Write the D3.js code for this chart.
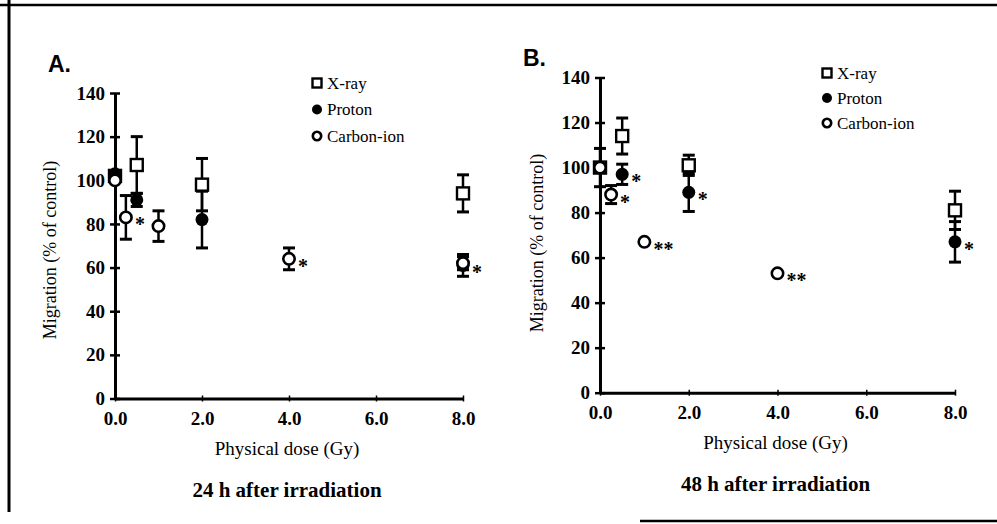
<!DOCTYPE html>
<html>
<head>
<meta charset="utf-8">
<script src="https://cdn.jsdelivr.net/npm/d3@7/dist/d3.min.js"></script>
<style>
body{margin:0;background:#fff;}
svg{display:block;}
</style>
</head>
<body>
<div id="chart-area"></div>
<script>
// ---- data ----
var seriesNames=["X-ray","Proton","Carbon-ion"];
var xTicks=[0,2,4,6,8];
var yTicks=[0,20,40,60,80,100,120,140];

// A: 24 h after irradiation
var xrayDoseA=[0,0.5,2,8],        xrayA=[102,107,98,94],      xrayErrA=[0,13,12,8.5],   xraySigA=["","","",""];
var protonDoseA=[0,0.5,2,8],      protonA=[103,91,82,61],     protonErrA=[0,3,13,5],    protonSigA=["","","","*"];
var carbonDoseA=[0,0.25,1,4,8],   carbonA=[100,83,79,64,62],  carbonErrA=[0,10,7,5,3],  carbonSigA=["","*","","*",""];

// B: 48 h after irradiation
var xrayDoseB=[0,0.5,2,8],        xrayB=[100,114,101,81],     xrayErrB=[0,8,4.5,8.5],   xraySigB=["","","",""];
var protonDoseB=[0,0.5,2,8],      protonB=[100,97,89,67],     protonErrB=[8.5,4.5,8.5,9], protonSigB=["","*","*","*"];
var carbonDoseB=[0,0.25,1,4],     carbonB=[100,88,67,53],     carbonErrB=[0,4,0,0],     carbonSigB=["","*","**","**"];

function pack(dose,val,err,sig){
    return dose.map(function(d,i){return {dose:d,value:val[i],err:err[i],sig:sig[i]};});
}

var panels=[
    {letter:"A.",title:"24 h after irradiation",
     x0:115,x1:463,yTop:93,yBot:398.5,
     letterX:48,letterY:72,legX:317,legY:83,legGap:26.5,
     yTitleX:50,yTitleY:250,
     series:[pack(xrayDoseA,xrayA,xrayErrA,xraySigA),pack(protonDoseA,protonA,protonErrA,protonSigA),pack(carbonDoseA,carbonA,carbonErrA,carbonSigA)]},
    {letter:"B.",title:"48 h after irradiation",
     x0:600,x1:955,yTop:77.5,yBot:392.7,
     letterX:523,letterY:66,legX:827,legY:73,legGap:25,
     yTitleX:537,yTitleY:243,
     series:[pack(xrayDoseB,xrayB,xrayErrB,xraySigB),pack(protonDoseB,protonB,protonErrB,protonSigB),pack(carbonDoseB,carbonB,carbonErrB,carbonSigB)]}
];

var width=997, height=524;
var serif="'Liberation Serif','Times New Roman',serif";

var svg=d3.select("#chart-area").append("svg")
    .attr("width",width)
    .attr("height",height);

svg.append("rect").attr("width",width).attr("height",height).attr("fill","#fff");

// scan frame
svg.append("line").attr("x1",0).attr("x2",width).attr("y1",5).attr("y2",5)
    .attr("stroke","#000").attr("stroke-width",2.5);
svg.append("line").attr("x1",9).attr("x2",9).attr("y1",0).attr("y2",512)
    .attr("stroke","#000").attr("stroke-width",3);
svg.append("line").attr("x1",640).attr("x2",width).attr("y1",521).attr("y2",521)
    .attr("stroke","#000").attr("stroke-width",2.5);

function marker(sel,k,size){
    if(k===0){
        sel.append("rect")
            .attr("x",-size/2).attr("y",-size/2)
            .attr("width",size).attr("height",size)
            .attr("fill","#fff").attr("stroke","#000").attr("stroke-width",2.4);
    }else if(k===1){
        sel.append("circle").attr("r",size/2+0.5).attr("fill","#000");
    }else{
        sel.append("circle").attr("r",size/2-0.3)
            .attr("fill","#fff").attr("stroke","#000").attr("stroke-width",2.6);
    }
}

panels.forEach(function(p){
    var x=d3.scaleLinear().domain([0,8]).range([p.x0,p.x1]);
    var y=d3.scaleLinear().domain([0,140]).range([p.yBot,p.yTop]);

    var g=svg.append("g");

    // axes
    var xAxis=g.append("g")
        .attr("transform","translate(0,"+y(0)+")")
        .call(d3.axisBottom(x).tickValues(xTicks).tickFormat(d3.format(".1f")).tickSizeInner(3).tickSizeOuter(0));
    xAxis.select(".domain").attr("stroke","#000").attr("stroke-width",3);
    xAxis.selectAll(".tick line").attr("stroke","#000").attr("stroke-width",1.5).attr("y1",-3);
    xAxis.selectAll("text")
        .attr("y",13)
        .attr("font-family",serif).attr("font-size","19px").attr("font-weight","bold")
        .attr("fill","#000");

    var yAxis=g.append("g")
        .attr("transform","translate("+x(0)+",0)")
        .call(d3.axisLeft(y).tickValues(yTicks).tickSizeInner(5).tickSizeOuter(0).tickPadding(5));
    yAxis.select(".domain").attr("stroke","#000").attr("stroke-width",3);
    yAxis.selectAll(".tick line").attr("stroke","#000").attr("stroke-width",2.5).attr("x2",5).attr("x1",-5);
    yAxis.selectAll("text")
        .attr("font-family",serif).attr("font-size","19px").attr("font-weight","bold")
        .attr("fill","#000");

    // titles
    g.append("text")
        .attr("x",(p.x0+p.x1)/2-2).attr("y",p.yBot+56)
        .attr("text-anchor","middle")
        .attr("font-family",serif).attr("font-size","19px")
        .text("Physical dose (Gy)");
    g.append("text")
        .attr("x",(p.x0+p.x1)/2-2).attr("y",p.yBot+98)
        .attr("text-anchor","middle")
        .attr("font-family",serif).attr("font-size","21px").attr("font-weight","bold")
        .text(p.title);
    g.append("text")
        .attr("transform","translate("+p.yTitleX+","+p.yTitleY+") rotate(-90)")
        .attr("text-anchor","middle")
        .attr("dy","0.35em")
        .attr("font-family",serif).attr("font-size","18px")
        .text("Migration (% of control)");
    g.append("text")
        .attr("x",p.letterX).attr("y",p.letterY)
        .attr("font-family","'Liberation Sans',Arial,sans-serif").attr("font-size","23px").attr("font-weight","bold")
        .text(p.letter);

    // legend
    seriesNames.forEach(function(name,k){
        var ly=p.legY+k*p.legGap;
        var lg=g.append("g").attr("transform","translate("+p.legX+","+ly+")");
        marker(lg,k,9);
        lg.append("text")
            .attr("x",10).attr("dy","0.35em")
            .attr("font-family",serif).attr("font-size","17px")
            .text(name);
    });

    // error bars
    p.series.forEach(function(s){
        var eb=g.append("g").selectAll("g").data(s.filter(function(d){return d.err>0;}))
            .enter().append("g");
        eb.append("line")
            .attr("x1",function(d){return x(d.dose);}).attr("x2",function(d){return x(d.dose);})
            .attr("y1",function(d){return y(d.value+d.err);}).attr("y2",function(d){return y(d.value-d.err);})
            .attr("stroke","#000").attr("stroke-width",2.5);
        [1,-1].forEach(function(sgn){
            eb.append("line")
                .attr("x1",function(d){return x(d.dose)-6;}).attr("x2",function(d){return x(d.dose)+6;})
                .attr("y1",function(d){return y(d.value+sgn*d.err);}).attr("y2",function(d){return y(d.value+sgn*d.err);})
                .attr("stroke","#000").attr("stroke-width",3);
        });
    });

    // points
    p.series.forEach(function(s,k){
        g.append("g").selectAll("g").data(s).enter().append("g")
            .attr("transform",function(d){return "translate("+x(d.dose)+","+y(d.value)+")";})
            .each(function(){marker(d3.select(this),k,12);});
    });

    // significance marks
    p.series.forEach(function(s){
        g.append("g").selectAll("text").data(s.filter(function(d){return d.sig!=="";}))
            .enter().append("text")
            .attr("x",function(d){return x(d.dose)+9;})
            .attr("y",function(d){return y(d.value)+14;})
            .attr("font-family",serif).attr("font-size","20px").attr("font-weight","bold")
            .text(function(d){return d.sig;});
    });
});
</script>
</body>
</html>
